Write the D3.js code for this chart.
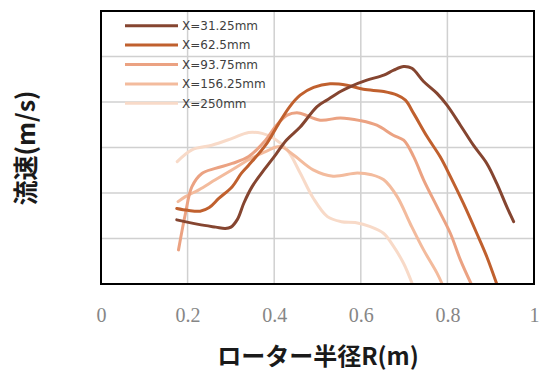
<!DOCTYPE html>
<html>
<head>
<meta charset="utf-8">
<script src="https://cdn.jsdelivr.net/npm/d3@7"></script>
<style>
  html, body { margin: 0; padding: 0; background: #fff; }
  svg { display: block; }
</style>
</head>
<body>
<svg id="chart" width="540" height="373"></svg>
<script>
// Radial velocity profiles at several axial positions behind the rotor
const seriesNames = ["X=31.25mm", "X=62.5mm", "X=93.75mm", "X=156.25mm", "X=250mm"];
const seriesColors = ["#854530", "#c0602e", "#eba282", "#f3bb9d", "#f8dac8"];

// [rotor radius R (m), flow speed]
const xTicks = [0, 0.2, 0.4, 0.6, 0.8, 1];
const xTickLabels = ["0", "0.2", "0.4", "0.6", "0.8", "1"];
const yGrid = [0, 1, 2, 3, 4, 5, 6];

const s31 = [[0.175,1.41],[0.225,1.31],[0.265,1.25],[0.287,1.22],[0.300,1.25],[0.315,1.42],[0.330,1.78],[0.349,2.14],[0.380,2.55],[0.404,2.85],[0.428,3.16],[0.460,3.45],[0.499,3.90],[0.523,4.05],[0.553,4.23],[0.576,4.34],[0.614,4.48],[0.653,4.59],[0.676,4.70],[0.699,4.78],[0.718,4.74],[0.745,4.45],[0.776,4.19],[0.799,3.93],[0.830,3.49],[0.860,3.05],[0.891,2.65],[0.914,2.21],[0.937,1.70],[0.953,1.37]];
const s62 = [[0.175,1.66],[0.200,1.62],[0.229,1.60],[0.250,1.68],[0.272,1.88],[0.303,2.14],[0.324,2.43],[0.340,2.60],[0.380,3.05],[0.410,3.52],[0.436,3.90],[0.460,4.15],[0.491,4.32],[0.529,4.40],[0.568,4.37],[0.606,4.28],[0.653,4.23],[0.684,4.15],[0.703,4.04],[0.722,3.75],[0.753,3.24],[0.783,2.80],[0.807,2.36],[0.837,1.77],[0.868,1.11],[0.891,0.60],[0.914,0.00]];
const s93 = [[0.179,0.75],[0.195,1.55],[0.210,2.14],[0.233,2.43],[0.264,2.54],[0.303,2.65],[0.341,2.80],[0.380,3.16],[0.403,3.46],[0.430,3.71],[0.456,3.76],[0.506,3.60],[0.553,3.65],[0.599,3.59],[0.637,3.49],[0.675,3.27],[0.699,3.16],[0.722,2.80],[0.745,2.29],[0.776,1.70],[0.807,1.11],[0.830,0.53],[0.855,0.00]];
const s156 = [[0.178,1.81],[0.195,1.92],[0.226,2.07],[0.264,2.29],[0.303,2.51],[0.341,2.73],[0.380,2.91],[0.414,3.02],[0.444,2.84],[0.490,2.51],[0.536,2.37],[0.592,2.44],[0.625,2.40],[0.653,2.29],[0.684,1.92],[0.714,1.33],[0.745,0.75],[0.776,0.24],[0.788,0.00]];
const s250 = [[0.176,2.69],[0.210,2.95],[0.256,3.05],[0.303,3.20],[0.341,3.33],[0.372,3.31],[0.398,3.21],[0.430,2.95],[0.460,2.44],[0.490,1.89],[0.523,1.48],[0.555,1.37],[0.587,1.35],[0.622,1.26],[0.653,1.11],[0.676,0.82],[0.699,0.45],[0.719,0.00]];

const seriesData = [s31, s62, s93, s156, s250];

const svg = d3.select("#chart");
const plot = { left: 101, right: 534, top: 11, bottom: 284 };

const x = d3.scaleLinear().domain([0, 1]).range([plot.left, plot.right]);
const y = d3.scaleLinear().domain([0, 6]).range([plot.bottom, plot.top]);

// gridlines
const grid = svg.append("g").attr("stroke", "#d0d0d0").attr("stroke-width", 1.5);
grid.selectAll("line.v").data(xTicks.slice(1, -1)).join("line")
  .attr("x1", d => x(d)).attr("x2", d => x(d))
  .attr("y1", plot.top).attr("y2", plot.bottom);
grid.selectAll("line.h").data(yGrid.slice(1, -1)).join("line")
  .attr("x1", plot.left).attr("x2", plot.right)
  .attr("y1", d => y(d)).attr("y2", d => y(d));

// clip the curves to the plot frame
svg.append("clipPath").attr("id", "plotClip").append("rect")
  .attr("x", plot.left).attr("y", plot.top)
  .attr("width", plot.right - plot.left).attr("height", plot.bottom - plot.top);

const line = d3.line()
  .x(d => x(d[0])).y(d => y(d[1]))
  .curve(d3.curveCatmullRom.alpha(0.5));

const curves = svg.append("g").attr("clip-path", "url(#plotClip)");
// draw lightest first so darker profiles sit on top
d3.range(seriesData.length).reverse().forEach(i => {
  curves.append("path")
    .datum(seriesData[i])
    .attr("fill", "none")
    .attr("stroke", seriesColors[i])
    .attr("stroke-width", 3)
    .attr("stroke-linecap", "round")
    .attr("stroke-linejoin", "round")
    .attr("d", line);
});

// frame
svg.append("rect")
  .attr("x", plot.left).attr("y", plot.top)
  .attr("width", plot.right - plot.left).attr("height", plot.bottom - plot.top)
  .attr("fill", "none").attr("stroke", "#000").attr("stroke-width", 2);

// x axis labels
const xAxis = d3.axisBottom(x).tickValues(xTicks)
  .tickFormat((d, i) => xTickLabels[i]).tickSize(0).tickPadding(0);
const xg = svg.append("g").attr("transform", `translate(0,${plot.bottom})`).call(xAxis);
xg.select(".domain").remove();
xg.attr("font-size", null).attr("font-family", null);
xg.selectAll("text")
  .attr("y", 31).attr("dy", "0.35em")
  .attr("fill", "#868686")
  .attr("font-family", "'Liberation Serif', 'DejaVu Serif', serif")
  .attr("font-size", "20px");

// axis titles
svg.append("text")
  .attr("x", 318).attr("y", 365)
  .attr("text-anchor", "middle")
  .attr("font-family", "'Noto Sans CJK JP', sans-serif")
  .attr("font-weight", "bold").attr("font-size", "24px")
  .attr("fill", "#1a1a1a")
  .text("ローター半径R(m)");

svg.append("text")
  .attr("transform", "translate(35,148) rotate(-90)")
  .attr("text-anchor", "middle")
  .attr("font-family", "'Noto Sans CJK JP', sans-serif")
  .attr("font-weight", "bold").attr("font-size", "25px")
  .attr("fill", "#1a1a1a")
  .text("流速(m/s)");

// legend
const legend = svg.append("g");
seriesNames.forEach((name, i) => {
  const ly = 25.7 + i * 19.4;
  legend.append("line")
    .attr("x1", 125).attr("x2", 178).attr("y1", ly).attr("y2", ly)
    .attr("stroke", seriesColors[i]).attr("stroke-width", 3);
  legend.append("text")
    .attr("x", 182).attr("y", ly).attr("dy", "0.35em")
    .attr("font-family", "'DejaVu Sans', sans-serif")
    .attr("font-size", "12px")
    .attr("fill", "#404040")
    .text(name);
});
</script>
</body>
</html>
